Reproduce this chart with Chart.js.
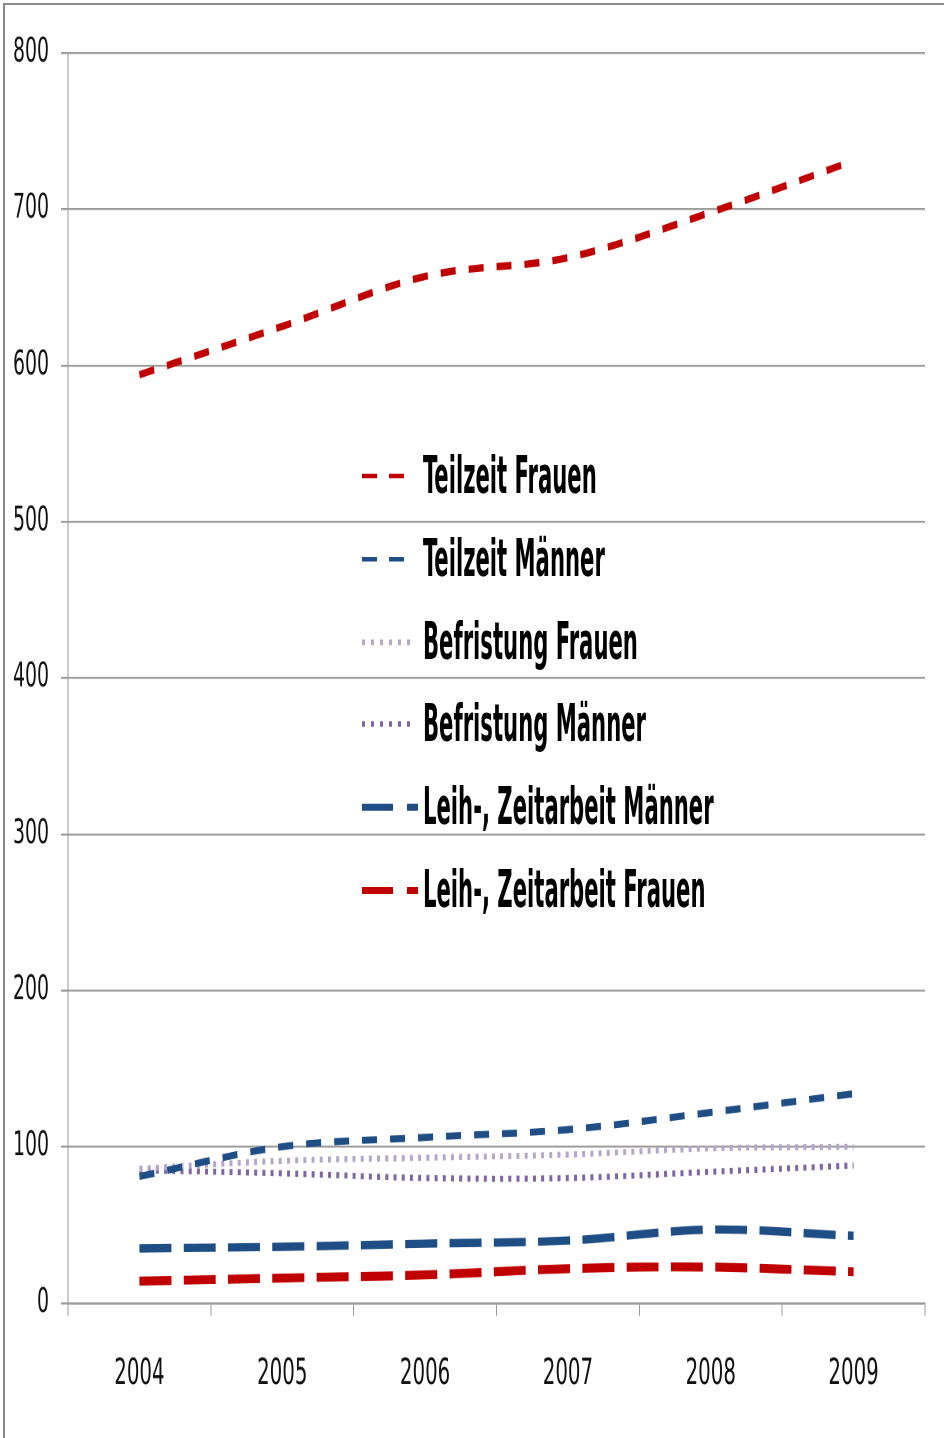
<!DOCTYPE html>
<html><head><meta charset="utf-8">
<script src="https://cdn.jsdelivr.net/npm/chart.js@4.4.1/dist/chart.umd.min.js"></script>
<style>
html,body{margin:0;padding:0;background:#fff;width:944px;height:1438px;overflow:hidden}
#frame{position:absolute;left:3px;top:3px;width:960px;height:1460px;border-top:2px solid #8a8a8a;border-left:2px solid #8a8a8a}
#stage{position:absolute;left:0;top:0;width:944px;height:898.75px;transform:scaleY(1.6);transform-origin:0 0}
#legend{position:absolute;left:0;top:0;width:944px;height:899px;pointer-events:none}
.row{position:absolute;left:362px;height:32px;line-height:32px;font-family:"Liberation Sans Narrow","DejaVu Sans Condensed",sans-serif;font-size:32px;font-weight:bold;color:#000;white-space:nowrap}
.row svg{position:absolute;left:0;top:0;overflow:visible}
.row span{position:absolute;left:61px;top:0;transform:scaleX(0.735);transform-origin:0 0}
</style></head>
<body>
<div id="frame"></div>
<div id="stage">
  <canvas id="c" width="944" height="899"></canvas>
  <div id="legend"></div>
</div>
<script>
// ---- data ----
const years = ['2004', '2005', '2006', '2007', '2008', '2009'];
const teilzeitFrauen   = [594, 625, 657, 669, 698, 731];
const teilzeitMaenner  = [81, 100, 106, 111, 122, 134];
const befristungFrauen = [86, 91, 93, 95, 99, 100];
const befristungMaenner= [85, 83, 80, 80, 84, 88];
const leihMaenner      = [35, 36, 38, 40, 47, 43];
const leihFrauen       = [14, 16, 18, 22, 23, 20];
const yTicks = [0, 100, 200, 300, 400, 500, 600, 700, 800];
const seriesLabels = ['Teilzeit Frauen', 'Teilzeit Männer', 'Befristung Frauen', 'Befristung Männer', 'Leih-, Zeitarbeit Männer', 'Leih-, Zeitarbeit Frauen'];

const RED = '#c00000', BLUE = '#1f4e85', LPURP = '#b7a6cc', DPURP = '#8064a2';
const GRID = '#9a9a9a';
const FONT = '"Liberation Sans Narrow","DejaVu Sans Condensed",sans-serif';

const datasets = [
  {label: seriesLabels[0], data: teilzeitFrauen, borderColor: RED, borderWidth: 4.6, borderDash: [15, 13], lg: {w: 2.8, dash: '15 12', len: 43}},
  {label: seriesLabels[1], data: teilzeitMaenner, borderColor: BLUE, borderWidth: 4.4, borderDash: [15, 13], lg: {w: 2.8, dash: '15 12', len: 43}},
  {label: seriesLabels[2], data: befristungFrauen, borderColor: LPURP, borderWidth: 3.8, borderDash: [3, 5.2], lg: {w: 3.5, dash: '3 6', len: 51}},
  {label: seriesLabels[3], data: befristungMaenner, borderColor: DPURP, borderWidth: 3.8, borderDash: [3, 5.2], lg: {w: 3.5, dash: '3 6', len: 51}},
  {label: seriesLabels[4], data: leihMaenner, borderColor: BLUE, borderWidth: 5.2, borderDash: [32, 12.3], lg: {w: 4.4, dash: '31 14', len: 56}},
  {label: seriesLabels[5], data: leihFrauen, borderColor: RED, borderWidth: 5.6, borderDash: [32, 12.3], lg: {w: 4.4, dash: '31 14', len: 56}}
];

// ---- html legend built from datasets ----
const legendEl = document.getElementById('legend');
datasets.forEach((ds, i) => {
  const row = document.createElement('div');
  row.className = 'row';
  row.style.top = (281 + i * 51.75) + 'px';
  row.innerHTML = '<svg width="60" height="32"><line x1="0" y1="16.5" x2="' + ds.lg.len + '" y2="16.5" stroke="' + ds.borderColor +
    '" stroke-width="' + ds.lg.w + '" stroke-dasharray="' + ds.lg.dash + '"/></svg><span>' + ds.label + '</span>';
  legendEl.appendChild(row);
});

Chart.defaults.font.family = FONT;
Chart.defaults.color = '#000';

new Chart(document.getElementById('c'), {
  type: 'line',
  data: {
    labels: years,
    datasets: datasets.map(d => ({
      label: d.label, data: d.data, borderColor: d.borderColor, backgroundColor: d.borderColor,
      borderWidth: d.borderWidth, borderDash: d.borderDash, borderCapStyle: 'butt',
      pointRadius: 0, tension: 0.35, fill: false
    }))
  },
  options: {
    responsive: false,
    devicePixelRatio: 2,
    animation: false,
    events: [],
    layout: {padding: {top: 33.1, right: 19, left: 0, bottom: 0}},
    plugins: {legend: {display: false}, tooltip: {enabled: false}},
    scales: {
      x: {
        type: 'category',
        offset: true,
        grid: {offset: true, drawOnChartArea: false, drawTicks: true, tickLength: 8, color: GRID, lineWidth: 1},
        border: {display: true, color: GRID, width: 1.3},
        ticks: {font: {size: 22}, color: '#111', padding: 23.5, maxRotation: 0},
        afterFit: s => { s.height = 899 - 814.4; }
      },
      y: {
        min: 0, max: 800,
        afterBuildTicks: s => { s.ticks = yTicks.map(v => ({value: v})); },
        grid: {color: GRID, lineWidth: 1.3, tickLength: 7, drawTicks: true},
        border: {display: true, color: GRID, width: 1},
        ticks: {font: {size: 21}, color: '#111', padding: 12},
        afterFit: s => { s.width = 68; }
      }
    }
  }
});
</script>
</body></html>
